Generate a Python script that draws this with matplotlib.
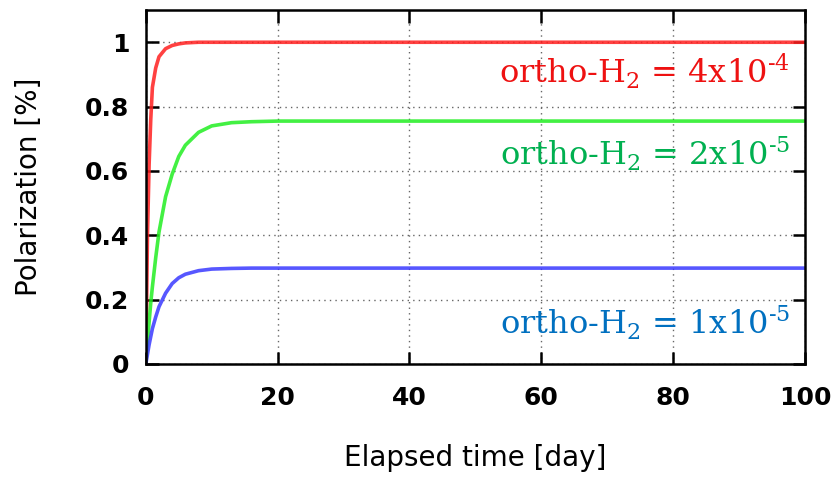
import matplotlib.pyplot as plt

# elapsed time [day] and polarization [%]
t = [0, 0.25, 0.5, 0.75, 1, 1.5, 2, 3, 4, 5, 6, 8, 10, 13, 16, 20, 30, 50, 100]
pol_4e4 = [0, 0.40, 0.62, 0.76, 0.86, 0.92, 0.955, 0.98, 0.99, 0.995, 0.998, 1.0, 1.0, 1.0, 1.0, 1.0, 1.0, 1.0, 1.0]
pol_2e5 = [0, 0.07, 0.13, 0.19, 0.24, 0.33, 0.41, 0.52, 0.59, 0.645, 0.68, 0.72, 0.74, 0.75, 0.753, 0.755, 0.755, 0.755, 0.755]
pol_1e5 = [0, 0.03, 0.06, 0.085, 0.11, 0.146, 0.178, 0.22, 0.25, 0.268, 0.279, 0.29, 0.295, 0.297, 0.298, 0.298, 0.298, 0.298, 0.298]

labels = ['ortho-H$_\\mathregular{2}$ = 4x10$^\\mathregular{\u2010 4}$',
          'ortho-H$_\\mathregular{2}$ = 2x10$^\\mathregular{\u2010 5}$',
          'ortho-H$_\\mathregular{2}$ = 1x10$^\\mathregular{\u2010 5}$']
label_y = [0.873, 0.618, 0.09]

plt.rcParams['mathtext.fontset'] = 'custom'
plt.rcParams['mathtext.rm'] = 'DejaVu Serif'

fig = plt.figure(figsize=(8.38, 4.8), dpi=100)
ax = fig.add_axes([0.174, 0.2417, 0.7866, 0.7373])

ax.plot(t, pol_4e4, color='#ff2020', lw=2.6, alpha=0.85)
ax.plot(t, pol_2e5, color='#22ee22', lw=2.6, alpha=0.85)
ax.plot(t, pol_1e5, color='#3a3aff', lw=2.6, alpha=0.85)

ax.set_xlim(0, 100)
ax.set_ylim(0, 1.1)
ax.set_xticks([0, 20, 40, 60, 80, 100])
ax.set_yticks([0, 0.2, 0.4, 0.6, 0.8, 1])
ax.set_yticklabels(['0', '0.2', '0.4', '0.6', '0.8', '1'])
ax.grid(True, color='#666666', linestyle=(0, (1, 3)), lw=1.0)
ax.tick_params(direction='in', top=True, right=True, length=9, width=1.8,
               labelsize=18, pad=12)
ax.tick_params(axis='x', pad=16)
for lab in ax.get_xticklabels() + ax.get_yticklabels():
    lab.set_fontweight('bold')
for s in ax.spines.values():
    s.set_linewidth(1.8)

ax.set_xlabel('Elapsed time [day]', fontsize=20, labelpad=24)
ax.set_ylabel('Polarization [%]', fontsize=20, labelpad=30)

text_colors = ['#ee1111', '#00b050', '#0070c0']
for lab, y, c in zip(labels, label_y, text_colors):
    ax.text(97.7, y, lab, color=c, ha='right', va='baseline',
            fontsize=23, family='DejaVu Serif')

plt.savefig('out.png', dpi=100)
